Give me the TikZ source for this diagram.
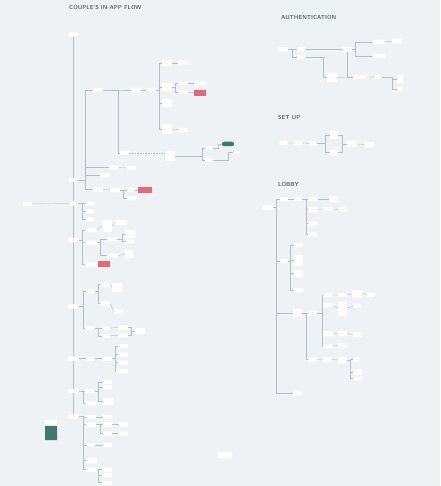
\documentclass[tikz,border=0pt]{standalone}
\usepackage{tikz}
\usetikzlibrary{positioning}

\definecolor{bgcol}{HTML}{EFF2F5}
\definecolor{linecol}{HTML}{B5BCC3}
\definecolor{titlecol}{HTML}{546766}
\definecolor{hotred}{HTML}{E0697A}
\definecolor{flowgreen}{HTML}{3E7A6B}

\tikzset{
  box/.style={fill=white, rounded corners=0.4pt, minimum width=10pt, minimum height=4pt, inner sep=0pt},
  hot/.style={box, fill=hotred, minimum width=12pt, minimum height=6pt},
  pill/.style={box, fill=flowgreen, rounded corners=2pt},
  ln/.style={draw=linecol, line width=0.4pt},
  dln/.style={ln, dash pattern=on 1pt off 0.6pt},
  flowtitle/.style={anchor=west, text=titlecol, inner sep=0pt, font=\sffamily\bfseries\fontsize{5.8}{6}\selectfont},
}

\begin{document}
\begin{tikzpicture}[x=1pt,y=-1pt]
  \fill[bgcol] (0,0) rectangle (440,486);
  \useasboundingbox (0,0) rectangle (440,486);

  % ---- couple's in-app flow
  \node[flowtitle] (title1) at (69,7.5) {COUPLE'S IN-APP FLOW};

  \node[box,minimum width=9pt] (top) at (73.5,34.5) {};
  \node[box,minimum width=9pt] (m1) at (73.5,180) {};
  \node[box,minimum width=8pt] (m2) at (73.5,203.5) {};
  \node[box] (m3) at (73.5,240) {};
  \node[box,minimum width=11pt] (m4) at (73.5,306.5) {};
  \node[box,minimum width=11pt] (m5) at (73.5,358.5) {};
  \node[box,minimum width=11pt] (m6) at (73.5,391) {};
  \node[box,minimum width=11pt] (m7) at (73.5,416.5) {};
  \node[box,minimum width=9pt] (s0) at (27.5,204) {};

  \node[box] (a1) at (98,90) {};
  \node[box] (a2) at (136,90) {};
  \node[box] (a3) at (125,153) {};
  \node[box] (a4) at (151,90) {};
  \node[box,minimum height=6pt] (a5) at (167,63) {};
  \node[box] (a6) at (183,63) {};
  \node[box,minimum height=8pt] (a7) at (167,87) {};
  \node[box,minimum width=9pt] (a8) at (183,83) {};
  \node[box,minimum width=12pt] (a9) at (200,83) {};
  \node[box,minimum width=9pt] (a10) at (183,92) {};
  \node[hot] (r1) at (200,93) {};
  \node[box,minimum height=8pt] (a11) at (167,103) {};
  \node[box,minimum height=10pt] (a12) at (167,129) {};
  \node[box,minimum width=9pt] (a13) at (183,130) {};
  \node[box,minimum height=10pt] (a14) at (170,156) {};
  \node[box,minimum width=8pt,minimum height=3pt] (a15) at (209,148) {};
  \node[box,minimum width=8pt,minimum height=3pt] (a16) at (209,160) {};
  \node[pill,minimum width=12pt,minimum height=4.5pt] (p1) at (228,144) {};
  \node[box,minimum width=7pt,minimum height=3pt] (a17) at (236.5,152.5) {};
  \node[box] (a18) at (114,167.5) {};
  \node[box] (a19) at (131,168) {};
  \node[box] (a20) at (105,175.5) {};
  \node[box] (a21) at (98,189.5) {};
  \node[box] (a22) at (115,190) {};
  \node[box,minimum width=8pt] (a23) at (131,190) {};
  \node[hot,minimum width=14pt] (r2) at (145,190) {};
  \node[box,minimum width=9pt] (a24) at (131.5,198) {};

  \node[box,minimum width=8pt] (b1) at (90,203.5) {};
  \node[box,minimum width=8pt] (b2) at (90,211.5) {};
  \node[box,minimum width=8pt] (b3) at (90,219.5) {};

  \node[box,minimum width=12pt] (c1) at (91,230) {};
  \node[box,minimum height=12pt] (c2) at (107,226) {};
  \node[box,minimum width=12pt,minimum height=5pt] (c3) at (121,222.5) {};
  \node[box,minimum width=12pt] (c4) at (91,242.5) {};
  \node[box] (c5) at (112,239) {};
  \node[box,minimum height=8pt] (c6) at (130,234) {};
  \node[box,minimum width=8pt] (c7) at (130,241.5) {};
  \node[box,minimum width=11pt] (c8) at (112.5,255.5) {};
  \node[box,minimum width=8pt,minimum height=8pt] (c9) at (129,254) {};
  \node[box,minimum width=12pt] (c10) at (91,264.5) {};
  \node[hot] (r3) at (104,264) {};

  \node[box,minimum width=9pt] (d1) at (90.5,291.5) {};
  \node[box] (d2) at (105,284.5) {};
  \node[box,minimum height=9pt] (d3) at (117,287.5) {};
  \node[box] (d4) at (105,303.5) {};
  \node[box,minimum width=9pt] (d5) at (118.5,311.5) {};
  \node[box] (d6) at (90,328) {};
  \node[box,minimum width=8pt] (d7) at (106,328) {};
  \node[box,minimum width=8pt] (d8) at (106,336) {};
  \node[box,minimum height=5pt] (d9) at (123,327.5) {};
  \node[box] (d10) at (123,335) {};
  \node[box,minimum height=6pt] (d11) at (140,331) {};

  \node[box,minimum width=9pt] (e1) at (90.5,358.5) {};
  \node[box] (e2) at (107,358.5) {};
  \node[box] (e3) at (123,346) {};
  \node[box] (e4) at (123,354.5) {};
  \node[box] (e5) at (123,362.5) {};
  \node[box,minimum width=12pt] (e6) at (122,371) {};

  \node[box] (f1) at (90,391) {};
  \node[box,minimum width=9pt] (f2) at (107.5,382) {};
  \node[box,minimum width=9pt] (f3) at (107.5,387) {};
  \node[box,minimum height=7pt] (f4) at (108,401.5) {};
  \node[box,minimum width=11pt] (f5) at (90.5,403.5) {};

  \node[box] (g1) at (91,417) {};
  \node[box,minimum width=9pt] (g2) at (107.5,417) {};
  \node[box,minimum height=5pt] (g3) at (91,424.5) {};
  \node[box,minimum width=9pt,minimum height=5pt] (g4) at (107.5,424.5) {};
  \node[box,minimum width=9pt,minimum height=5pt] (g5) at (123.5,424.5) {};
  \node[box,minimum width=9pt] (g6) at (107.5,433.5) {};
  \node[box] (g7) at (123,433.5) {};
  \node[box,minimum width=8pt] (g8) at (91,445) {};
  \node[box,minimum width=9pt] (g9) at (107.5,445) {};
  \node[box,minimum height=5pt] (g10) at (91.5,460.5) {};
  \node[box] (g11) at (91.5,469.5) {};
  \node[box] (g12) at (107,469.5) {};
  \node[box] (g13) at (107,475) {};
  \node[box] (g14) at (107,482.5) {};

  \node[box,minimum width=12pt] (lg1) at (51,422) {};
  \node[pill,rounded corners=0.4pt,minimum width=12pt,minimum height=14pt] (lg2) at (51,433) {};
  \node[box,minimum width=14pt,minimum height=6pt] (lone) at (225,455) {};

  % spines
  \coordinate (sm1) at (85,0);  \coordinate (sa1) at (118,0);
  \coordinate (sa4) at (159,0); \coordinate (sa7) at (175,0);
  \coordinate (sa14) at (202,0); \coordinate (sa22) at (123,0);
  \coordinate (sp1) at (218,0); \coordinate (sa17) at (228,0);
  \coordinate (sx82) at (82,0); \coordinate (sc4) at (100,0);
  \coordinate (sc5) at (122,0); \coordinate (sx83) at (83,0);
  \coordinate (sd) at (98,0);  \coordinate (sd9) at (131,0);
  \coordinate (se2) at (115,0); \coordinate (sg) at (100,0);

  \draw[ln] (top) -- (m1) -- (m2) -- (m3) -- (m4) -- (m5) -- (m6) -- (m7);
  \draw[dln] (s0) -- (m2);

  \foreach \c in {a1,a18,a20,a21} \draw[ln] (m1.east) -| (sm1 |- \c.west) -- (\c.west);
  \foreach \c in {a2,a3} \draw[ln] (a1.east) -| (sa1 |- \c.west) -- (\c.west);
  \draw[ln] (a2) -- (a4);
  \foreach \c in {a5,a7,a11,a12} \draw[ln] (a4.east) -| (sa4 |- \c.west) -- (\c.west);
  \draw[ln] (a5) -- (a6);
  \foreach \c in {a8,a10} \draw[ln] (a7.east) -| (sa7 |- \c.west) -- (\c.west);
  \draw[ln] (a8) -- (a9);
  \draw[ln] (a10) -- (r1);
  \draw[ln] (a12) -- (a13);
  \draw[dln] (a3.east) -- (a3.east -| a14.west);
  \foreach \c in {a15,a16} \draw[ln] (a14.east) -| (sa14 |- \c.west) -- (\c.west);
  \draw[ln] (a15.east) -| (sp1 |- p1.west) -- (p1.west);
  \draw[ln] (a16.east) -| (sa17 |- a17.west) -- (a17.west);
  \draw[ln] (a18) -- (a19);
  \draw[ln] (a21) -- (a22);
  \foreach \c in {a23,a24} \draw[ln] (a22.east) -| (sa22 |- \c.west) -- (\c.west);
  \draw[ln] (a23) -- (r2);

  \foreach \c in {b1,b2,b3} \draw[ln] (m2.east) -| (sx82 |- \c.west) -- (\c.west);

  \foreach \c in {c1,c4,c10} \draw[ln] (m3.east) -| (sx82 |- \c.west) -- (\c.west);
  \draw[ln] (c1.east) -- (c2.west);
  \draw[ln] (c2.east) -- (c3.west);
  \foreach \c in {c5,c8} \draw[ln] (c4.east) -| (sc4 |- \c.west) -- (\c.west);
  \foreach \c in {c6,c7} \draw[ln] (c5.east) -| (sc5 |- \c.west) -- (\c.west);
  \draw[ln] (c8.east) -- (c9.west);
  \draw[ln] (c10) -- (r3);

  \foreach \c in {d1,d6} \draw[ln] (m4.east) -| (sx83 |- \c.west) -- (\c.west);
  \foreach \c in {d2,d4} \draw[ln] (d1.east) -| (sd |- \c.west) -- (\c.west);
  \draw[ln] (d2.east) -- (d3.west);
  \draw[ln] (d4.east) -- (d5.west);
  \foreach \c in {d7,d8} \draw[ln] (d6.east) -| (sd |- \c.west) -- (\c.west);
  \draw[ln] (d7) -- (d9);
  \draw[ln] (d8) -- (d10);
  \foreach \c in {d9,d10} \draw[ln] (\c.east) -| (sd9 |- d11.west) -- (d11.west);

  \draw[ln] (m5) -- (e1) -- (e2);
  \foreach \c in {e3,e4,e5,e6} \draw[ln] (e2.east) -| (se2 |- \c.west) -- (\c.west);

  \foreach \c in {f1,f5} \draw[ln] (m6.east) -| (sx83 |- \c.west) -- (\c.west);
  \foreach \c in {f2,f3,f4} \draw[ln] (f1.east) -| (sd |- \c.west) -- (\c.west);

  \foreach \c in {g1,g3,g8,g10,g11} \draw[ln] (m7.east) -| (sx83 |- \c.west) -- (\c.west);
  \draw[ln] (g1) -- (g2);
  \foreach \c in {g4,g6} \draw[ln] (g3.east) -| (sg |- \c.west) -- (\c.west);
  \draw[ln] (g4) -- (g5);
  \draw[ln] (g6) -- (g7);
  \draw[ln] (g8) -- (g9);
  \foreach \c in {g12,g13,g14} \draw[ln] (g11.east) -| (sd |- \c.west) -- (\c.west);

  % ---- authentication
  \node[flowtitle] (title2) at (281,17.5) {AUTHENTICATION};
  \node[box] (h1) at (283,49.5) {};
  \node[box,minimum width=8pt] (h2) at (301,49.5) {};
  \node[box,minimum width=8pt] (h3) at (301,57.5) {};
  \node[box,minimum width=9pt,minimum height=5pt] (h4) at (347.5,49.5) {};
  \node[box,minimum height=9pt] (h5) at (332,77.5) {};
  \node[box,minimum width=14pt] (h6) at (360,77) {};
  \node[box,minimum width=7pt] (h7) at (378.5,77) {};
  \node[box,minimum width=6pt,minimum height=8pt] (h8) at (400,79) {};
  \node[box,minimum width=6pt] (h9) at (400,89) {};
  \node[box,minimum width=12pt] (h10) at (379,42) {};
  \node[box,minimum height=5pt] (h11) at (397,41) {};
  \node[box,minimum width=12pt] (h12) at (379,56) {};

  \coordinate (sh1) at (292,0); \coordinate (sh3) at (323,0);
  \coordinate (sh4) at (355,0); \coordinate (sh7) at (392,0);
  \foreach \c in {h2,h3} \draw[ln] (h1.east) -| (sh1 |- \c.west) -- (\c.west);
  \draw[ln] (h2) -- (h4);
  \draw[ln] (h3.east) -| (sh3 |- h5.west) -- (h5.west);
  \draw[ln] (h5) -- (h6) -- (h7);
  \draw[ln] (h4.south) |- (h6.west);
  \foreach \c in {h8,h9} \draw[ln] (h7.east) -| (sh7 |- \c.west) -- (\c.west);
  \foreach \c in {h10,h12} \draw[ln] (h4.east) -| (sh4 |- \c.west) -- (\c.west);
  \draw[ln] (h10) -- (h11);

  % ---- set up
  \node[flowtitle] (title3) at (278,117) {SET UP};
  \node[box,minimum width=8pt] (k1) at (283.5,143) {};
  \node[box,minimum width=8pt] (k2) at (298.5,143) {};
  \node[box,minimum width=8pt] (k3) at (313,143.5) {};
  \node[box,minimum width=8pt,minimum height=8pt] (k4) at (334,135) {};
  \node[box,minimum width=8pt,minimum height=5pt] (k6) at (334,152.5) {};
  \node[box,minimum height=6pt] (k7) at (352,144) {};
  \node[box,minimum height=5pt] (k8) at (369,144.5) {};

  \coordinate (sk3) at (325,0); \coordinate (sk7) at (342,0);
  \draw[ln] (k1) -- (k2) -- (k3);
  \foreach \c in {k4,k6} \draw[ln] (k3.east) -| (sk3 |- \c.west) -- (\c.west);
  \foreach \c in {k4,k6} \draw[ln] (\c.east) -| (sk7 |- k7.west) -- (k7.west);
  \draw[ln] (k7) -- (k8);

  % ---- lobby
  \node[flowtitle] (title4) at (278,184) {LOBBY};
  \node[box] (l0) at (268,207.5) {};
  \node[box,minimum width=8pt] (l1) at (284,199) {};
  \node[box,minimum width=8pt] (l2) at (298,199) {};
  \node[box] (l3) at (313,199) {};
  \node[box,minimum width=9pt,minimum height=6pt] (l4) at (333.5,199) {};
  \node[box,minimum height=5pt] (l5) at (313,209.5) {};
  \node[box] (l6) at (328,209) {};
  \node[box,minimum width=9pt] (l7) at (342.5,209.5) {};
  \node[box,minimum width=9pt] (l8) at (312.5,223.5) {};
  \node[box,minimum width=9pt] (l9) at (312.5,234.5) {};
  \node[box,minimum width=7pt] (l10) at (284,261) {};
  \node[box,minimum width=9pt] (l11) at (298.5,245) {};
  \node[box,minimum width=9pt,minimum height=11pt] (l12) at (298.5,260.5) {};
  \node[box,minimum width=9pt,minimum height=7pt] (l13) at (298.5,273.5) {};
  \node[box,minimum width=9pt] (l14) at (298.5,290) {};
  \node[box,minimum width=9pt,minimum height=8pt] (l15) at (297.5,313) {};
  \node[box,minimum width=9pt] (l16) at (312.5,313.5) {};
  \node[box] (l17) at (328,295) {};
  \node[box,minimum width=9pt] (l18) at (342.5,295) {};
  \node[box,minimum height=7pt] (l19) at (357,293.5) {};
  \node[box,minimum width=8pt] (l20) at (371,294.5) {};
  \node[box] (l21) at (328,305) {};
  \node[box,minimum width=9pt,minimum height=14pt] (l22) at (342.5,309) {};
  \node[box,minimum width=8pt] (l23) at (357,305.5) {};
  \node[box,minimum height=5pt] (l24) at (328,333.5) {};
  \node[box,minimum width=9pt,minimum height=5pt] (l25) at (342.5,333.5) {};
  \node[box,minimum width=8pt,minimum height=5pt] (l26) at (357,334.5) {};
  \node[box] (l27) at (328,346) {};
  \node[box,minimum width=9pt] (l28) at (342.5,345.5) {};
  \node[box,minimum width=9pt] (l29) at (312.5,359.5) {};
  \node[box,minimum width=9pt,minimum height=5pt] (l30) at (327.5,359.5) {};
  \node[box,minimum width=9pt,minimum height=6pt] (l31) at (342.5,360) {};
  \node[box,minimum width=7pt] (l32) at (356.5,359.5) {};
  \node[box,minimum width=9pt,minimum height=6pt] (l34) at (357.5,372) {};
  \node[box,minimum width=9pt] (l35) at (357.5,378.5) {};
  \node[box,minimum width=9pt] (l36) at (297.5,393.5) {};

  \coordinate (sl0) at (276,0); \coordinate (sl2) at (306,0);
  \coordinate (sl10) at (290,0); \coordinate (sl16) at (322,0);
  \coordinate (sl31) at (350,0);
  \foreach \c in {l1,l10,l15,l36} \draw[ln] (l0.east) -| (sl0 |- \c.west) -- (\c.west);
  \draw[ln] (l1) -- (l2);
  \foreach \c in {l3,l5,l8,l9} \draw[ln] (l2.east) -| (sl2 |- \c.west) -- (\c.west);
  \draw[ln] (l3) -- (l4);
  \draw[ln] (l5) -- (l6) -- (l7);
  \foreach \c in {l11,l12,l13,l14} \draw[ln] (l10.east) -| (sl10 |- \c.west) -- (\c.west);
  \foreach \c in {l16,l29} \draw[ln] (l15.east) -| (sl2 |- \c.west) -- (\c.west);
  \foreach \c in {l17,l21,l24,l27} \draw[ln] (l16.east) -| (sl16 |- \c.west) -- (\c.west);
  \draw[ln] (l17) -- (l18) -- (l19) -- (l20);
  \draw[ln] (l21) -- (l22) -- (l23);
  \draw[ln] (l24) -- (l25) -- (l26);
  \draw[ln] (l27) -- (l28);
  \draw[ln] (l29) -- (l30) -- (l31);
  \foreach \c in {l32,l34,l35} \draw[ln] (l31.east) -| (sl31 |- \c.west) -- (\c.west);
\end{tikzpicture}
\end{document}
